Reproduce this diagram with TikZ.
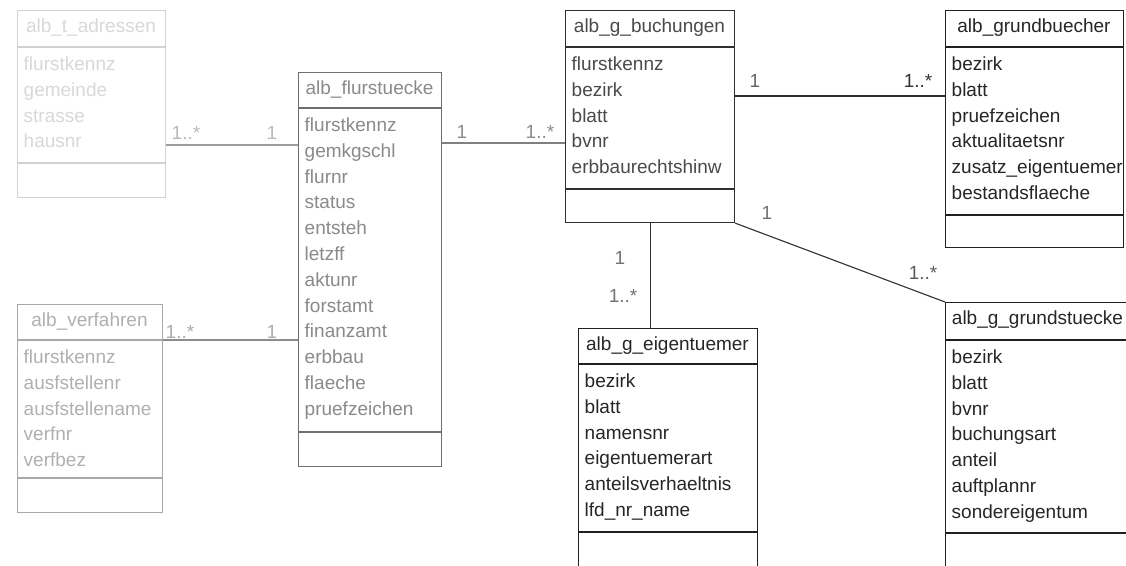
\documentclass[tikz,border=0pt]{standalone}
\usepackage{fontspec}
\setmainfont{Liberation Sans}
\newcommand\fs{\fontsize{19}{22}\selectfont}
\definecolor{cAd}{HTML}{D2D2D2}\definecolor{cAt}{HTML}{D8D8D8}
\definecolor{cBd}{HTML}{A8A8A8}\definecolor{cBt}{HTML}{B0B0B0}
\definecolor{cCd}{HTML}{6E6E6E}\definecolor{cCt}{HTML}{8A8A8A}
\definecolor{cDd}{HTML}{303030}\definecolor{cDt}{HTML}{4A4A4A}
\definecolor{cEd}{HTML}{202020}\definecolor{cEt}{HTML}{262626}
\tikzset{
  cls/.style={rectangle, inner sep=0pt, line width=1.1pt},
  ttl/.style={inner sep=0pt, anchor=base, font=\fs},
  att/.style={inner sep=0pt, anchor=base west, font=\fs},
  mult/.style={inner sep=0pt, anchor=base, font=\fs},
  conn/.style={line width=1.1pt},
}
% #1 name, #2 colour letter, #3 left, #4 top, #5 right, #6 bottom, #7 title sep, #8 attr sep, #9 title
\newcommand\umlclass[9]{%
  \node[cls,draw=c#2d,minimum width={#5-#3},minimum height={#6-#4},anchor=north west] (#1) at (#3,#4) {};
  \draw[draw=c#2d,line width=1.1pt] (#3,#7) -- (#5,#7) (#3,#8) -- (#5,#8);
  \node[ttl,text=c#2t] (#1-title) at ({(#3+#5)/2},#4+22.5) {#9};
}
% #1 name, #2 colour letter, #3 left, #4 title sep, #5 list
\newcommand\umlattrs[5]{%
  \foreach \itm [count=\i] in {#5}
    \node[att,text=c#2t] (#1-a\i) at (#3+6.5,{#4+23.5+(\i-1)*25.8}) {\itm};
}
\begin{document}
\begin{tikzpicture}[x=1pt,y=-1pt]
\useasboundingbox (0,0) rectangle (1126,565);
\clip (0,0) rectangle (1126,565);
\fill[white] (0,0) rectangle (1126,565);

% classes
\umlclass{adr}{A}{17}{10}{165}{197}{47}{163}{alb\_t\_adressen}
\umlattrs{adr}{A}{17}{47}{flurstkennz,gemeinde,strasse,hausnr}

\umlclass{verf}{B}{17}{304}{162}{512}{340}{478}{alb\_verfahren}
\umlattrs{verf}{B}{17}{340}{flurstkennz,ausfstellenr,ausfstellename,verfnr,verfbez}

\umlclass{flur}{C}{298}{72}{441}{466}{108}{432}{alb\_flurstuecke}
\umlattrs{flur}{C}{298}{108}{flurstkennz,gemkgschl,flurnr,status,entsteh,letzff,aktunr,forstamt,finanzamt,erbbau,flaeche,pruefzeichen}

\umlclass{buch}{D}{565}{10}{734}{222}{47}{189}{alb\_g\_buchungen}
\umlattrs{buch}{D}{565}{47}{flurstkennz,bezirk,blatt,bvnr,erbbaurechtshinw}

\umlclass{gbuch}{E}{945}{10}{1123}{247}{47}{215}{alb\_grundbuecher}
\umlattrs{gbuch}{E}{945}{47}{bezirk,blatt,pruefzeichen,aktualitaetsnr,zusatz\_eigentuemer,bestandsflaeche}

\umlclass{eig}{E}{578}{328}{757}{580}{364}{532}{alb\_g\_eigentuemer}
\umlattrs{eig}{E}{578}{364}{bezirk,blatt,namensnr,eigentuemerart,anteilsverhaeltnis,lfd\_nr\_name}

\umlclass{gst}{E}{945}{302}{1130}{580}{340}{533}{alb\_g\_grundstuecke}
\umlattrs{gst}{E}{945}{340}{bezirk,blatt,bvnr,buchungsart,anteil,auftplannr,sondereigentum}

% connectors
\draw[conn,draw=black!38] ([yshift=-135pt]adr.north east) -- ([yshift=-73pt]flur.north west);
\draw[conn,draw=black!45] ([yshift=-36pt]verf.north east) -- ([yshift=-268pt]flur.north west);
\draw[conn,draw=black!50] ([yshift=-71pt]flur.north east) -- ([yshift=-133pt]buch.north west);
\draw[conn,draw=cDd] ([yshift=-86pt]buch.north east) -- ([yshift=-86pt]gbuch.north west);
\draw[conn,draw=cDd] (buch.south) -- (buch.south |- eig.north);
\draw[conn,draw=cDd] (buch.south east) -- (gst.north west);

% multiplicities
\node[mult,text=black!27] (m1) at (186,139) {1..*};
\node[mult,text=black!27] (m2) at (272,139) {1};
\node[mult,text=black!33] (m3) at (180,338) {1..*};
\node[mult,text=black!33] (m4) at (272,338) {1};
\node[mult,text=black!45] (m5) at (462,138) {1};
\node[mult,text=black!45] (m6) at (540,138) {1..*};
\node[mult,text=black!60] (m7) at (755,87) {1};
\node[mult,text=black!80] (m8) at (918,87) {1..*};
\node[mult,text=black!55] (m9) at (620,264) {1};
\node[mult,text=black!55] (m10) at (623,302) {1..*};
\node[mult,text=black!55] (m11) at (767,219) {1};
\node[mult,text=black!65] (m12) at (923,279) {1..*};
\end{tikzpicture}
\end{document}
